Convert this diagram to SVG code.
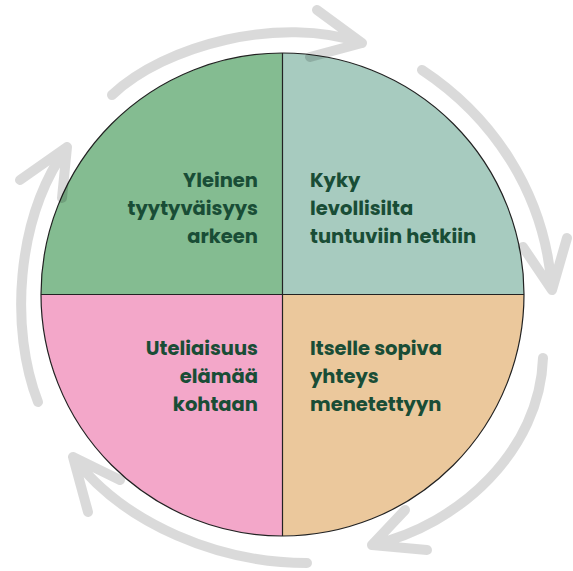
<svg xmlns="http://www.w3.org/2000/svg" width="573" height="571" viewBox="0 0 573 571">
<style>
.q{stroke:none}
.lbl{font-family:"Poppins","Inter","Open Sans",sans-serif;font-weight:700;font-size:19.5px;fill:#194d36}
.r{text-anchor:end}
.arr{fill:none;stroke:#000;stroke-opacity:0.145;stroke-width:10;stroke-linecap:round;stroke-linejoin:round}
</style>
<rect width="573" height="571" fill="#fff"/>
<g id="node-tl">
<path class="q" fill="#84bc91" d="M282.5,294.5 L41,294.5 A241.5,241.5 0 0 1 282.5,53 Z"/>
<text class="lbl r" x="258" y="187">Yleinen</text>
<text class="lbl r" x="258" y="215">tyytyväisyys</text>
<text class="lbl r" x="258" y="243">arkeen</text>
</g>
<g id="node-tr">
<path class="q" fill="#a7cbbf" d="M282.5,294.5 L282.5,53 A241.5,241.5 0 0 1 524,294.5 Z"/>
<text class="lbl" x="310" y="187">Kyky</text>
<text class="lbl" x="310" y="215">levollisilta</text>
<text class="lbl" x="310" y="243">tuntuviin hetkiin</text>
</g>
<g id="node-br">
<path class="q" fill="#ebc89c" d="M282.5,294.5 L524,294.5 A241.5,241.5 0 0 1 282.5,536 Z"/>
<text class="lbl" x="310" y="355">Itselle sopiva</text>
<text class="lbl" x="310" y="383">yhteys</text>
<text class="lbl" x="310" y="411">menetettyyn</text>
</g>
<g id="node-bl">
<path class="q" fill="#f3a7c9" d="M282.5,294.5 L282.5,536 A241.5,241.5 0 0 1 41,294.5 Z"/>
<text class="lbl r" x="258" y="355">Uteliaisuus</text>
<text class="lbl r" x="258" y="383">elämää</text>
<text class="lbl r" x="258" y="411">kohtaan</text>
</g>
<g id="outline" fill="none" stroke="#222" stroke-width="1.2">
<circle cx="282.5" cy="294.5" r="241.5"/>
<line x1="282.5" y1="53" x2="282.5" y2="536"/>
<line x1="41" y1="294.5" x2="524" y2="294.5"/>
</g>
<g id="connectors">
<path class="arr" d="M112,95 C165,45 280,15 362,43 M317,10 L362,43 L310,57"/>
<path class="arr" d="M422,70 C490,115 545,190 552,290 M523,247 L552,290 L567,238"/>
<path class="arr" d="M543,358 C540,450 460,525 372,545 M405,510 L372,545 L427,550"/>
<path class="arr" d="M307,563 C220,563 125,525 73,457 M120,480 L73,457 L88,512"/>
<path class="arr" d="M38,402 C10,330 15,220 67,147 M20,180 L67,147 L62,198"/>
</g>
</svg>
